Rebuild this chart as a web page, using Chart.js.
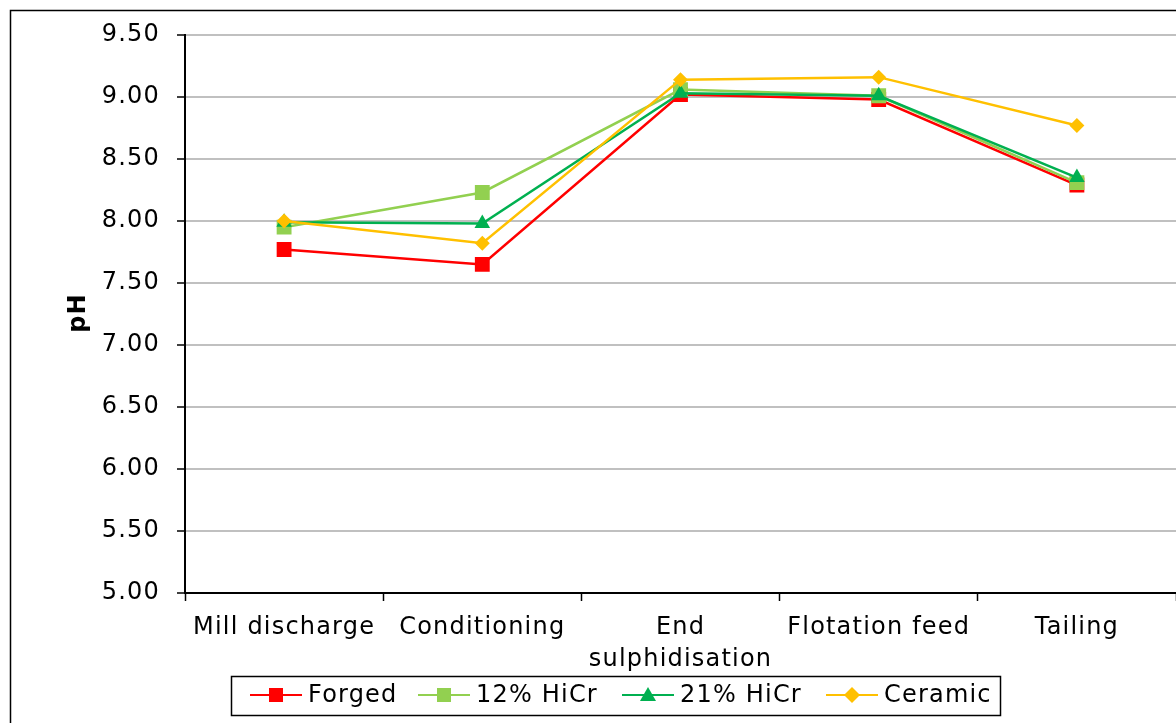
<!DOCTYPE html>
<html>
<head>
<meta charset="utf-8">
<script src="https://cdn.jsdelivr.net/npm/chart.js@4"></script>
<style>
  html, body { margin: 0; padding: 0; background: #fff; overflow: hidden; }
  #wrap { position: absolute; left: 0; top: 0; width: 1176px; height: 723px; }
</style>
</head>
<body>
<div id="wrap"><canvas id="myChart"></canvas></div>
<script>
// stages along the circuit
const stages = ["Mill discharge", "Conditioning", ["End", "sulphidisation"], "Flotation feed", "Tailing"];

// pH for each grinding media
const forged = [7.77, 7.65, 9.02, 8.98, 8.29];
const hicr12 = [7.95, 8.23, 9.06, 9.01, 8.31];
const hicr21 = [7.99, 7.98, 9.03, 9.01, 8.35];
const ceramic = [8.00, 7.82, 9.14, 9.16, 8.77];

const seriesNames = ["Forged", "12% HiCr", "21% HiCr", "Ceramic"];
const seriesColors = ["#ff0000", "#92d050", "#00b050", "#ffc000"];
const seriesMarkers = ["rect", "rect", "triangle", "rectRot"];
const markerRadius = { rect: 10.5, triangle: 9, rectRot: 7.5 };

const yMin = 5, yMax = 9.5, yStep = 0.5;

const FONT = "'DejaVu Sans', Verdana, sans-serif";
const SPACING = "1.2px"; // stretch DejaVu toward Verdana widths

let drawMarker = (ctx, style, x, y, r, color) => {
  ctx.fillStyle = color;
  ctx.beginPath();
  if (style == "rect") {
    ctx.rect(x - r, y - r, r * 2, r * 2);
  } else if (style == "triangle") {
    ctx.moveTo(x, y - r);
    ctx.lineTo(x + r, y + r * 0.75);
    ctx.lineTo(x - r, y + r * 0.75);
    ctx.closePath();
  } else {
    ctx.moveTo(x, y - r);
    ctx.lineTo(x + r, y);
    ctx.lineTo(x, y + r);
    ctx.lineTo(x - r, y);
    ctx.closePath();
  }
  ctx.fill();
};

const extras = {
  id: "extras",
  beforeDraw(chart) {
    const ctx = chart.ctx;
    ctx.letterSpacing = SPACING;
    ctx.save();
    ctx.fillStyle = "#fff";
    ctx.fillRect(0, 0, chart.width, chart.height);
    ctx.strokeStyle = "#000";
    ctx.lineWidth = 1.5;
    ctx.strokeRect(10.5, 10.5, 3000, 3000);
    ctx.restore();
  },
  afterDraw(chart) {
    const ctx = chart.ctx;
    ctx.save();
    // y title
    ctx.translate(79, 313);
    ctx.rotate(-Math.PI / 2);
    ctx.fillStyle = "#000";
    ctx.font = "bold 24px " + FONT;
    ctx.textAlign = "center";
    ctx.textBaseline = "middle";
    ctx.fillText("pH", 0, 0);
    ctx.restore();

    // legend
    ctx.save();
    ctx.strokeStyle = "#000";
    ctx.lineWidth = 1.5;
    ctx.strokeRect(231.5, 676.5, 769, 39);
    ctx.font = "24px " + FONT;
    ctx.textBaseline = "middle";
    const starts = [250, 418, 622, 826];
    for (let i = 0; i < seriesNames.length; i++) {
      const x0 = starts[i];
      const y = 695;
      ctx.strokeStyle = seriesColors[i];
      ctx.lineWidth = 2;
      ctx.beginPath();
      ctx.moveTo(x0, y);
      ctx.lineTo(x0 + 52, y);
      ctx.stroke();
      drawMarker(ctx, seriesMarkers[i], x0 + 26, y, seriesMarkers[i] == "rect" ? 7 : 8, seriesColors[i]);
      ctx.fillStyle = "#000";
      ctx.fillText(seriesNames[i], x0 + 58, y + 1);
    }
    ctx.restore();
  },
};

const allData = [forged, hicr12, hicr21, ceramic];
const datasets = allData.map((d, i) => ({
  label: seriesNames[i],
  data: d,
  borderColor: seriesColors[i],
  backgroundColor: seriesColors[i],
  borderWidth: 2.5,
  pointStyle: seriesMarkers[i],
  pointRadius: markerRadius[seriesMarkers[i]],
  pointBorderWidth: 0,
  pointBackgroundColor: seriesColors[i],
  tension: 0,
  order: 4 - i,
}));

let chart1 = document.getElementById("myChart").getContext("2d");
const myChart = new Chart(chart1, {
  type: "line",
  data: { labels: stages, datasets: datasets },
  plugins: [extras],
  options: {
    responsive: true,
    maintainAspectRatio: false,
    animation: false,
    devicePixelRatio: 1,
    layout: { autoPadding: false, padding: { top: 35, right: 0, left: 0, bottom: 0 } },
    plugins: {
      legend: { display: false },
      tooltip: { enabled: false },
    },
    scales: {
      x: {
        offset: true,
        grid: {
          offset: true,
          drawOnChartArea: false,
          drawTicks: true,
          tickLength: 8,
          tickColor: "#000",
          tickWidth: 1.5,
        },
        border: { display: true, color: "#000", width: 2 },
        ticks: {
          color: "#000",
          font: { family: FONT, size: 24, lineHeight: 1.33 },
          padding: 11,
          maxRotation: 0,
          autoSkip: false,
        },
        afterFit: (scale) => { scale.height = 130; },
      },
      y: {
        min: yMin,
        max: yMax,
        grid: {
          color: "#c0c0c0",
          lineWidth: 2,
          drawTicks: true,
          tickLength: 8,
          tickColor: "#000",
          tickWidth: 1.5,
        },
        border: { display: true, color: "#000", width: 2 },
        ticks: {
          stepSize: yStep,
          color: "#000",
          font: { family: FONT, size: 24 },
          padding: 17,
          callback: (v) => v.toFixed(2),
        },
        afterFit: (scale) => { scale.width = 185; },
      },
    },
  },
});
</script>
</body>
</html>
